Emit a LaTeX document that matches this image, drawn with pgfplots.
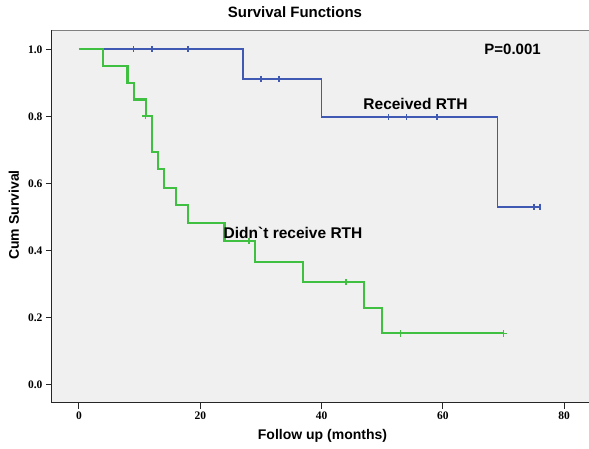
\documentclass[border=0pt]{standalone}
\usepackage{pgfplots}
\pgfplotsset{compat=1.18}
\usepackage{fontspec}
\setmainfont{Liberation Sans}
\newfontfamily\tickfont{Liberation Serif}
\definecolor{kmblue}{RGB}{64,90,180}
\definecolor{kmgreen}{RGB}{64,192,64}
\definecolor{plotbg}{RGB}{240,240,240}
\begin{document}
\begin{tikzpicture}[x=1pt,y=1pt]
\useasboundingbox (0,0) rectangle (589,448);
\begin{axis}[
  at={(52pt,45.3pt)}, anchor=south west,
  scale only axis, width=537pt, height=372.7pt,
  xmin=-4.45, xmax=84.1, ymin=-0.055, ymax=1.0576,
  axis x line*=bottom, axis y line*=left,
  axis line style={black!85, line width=1pt},
  axis background/.style={fill=plotbg},
  xtick={0,20,40,60,80}, ytick={0,0.2,0.4,0.6,0.8,1.0},
  tick align=outside, major tick length=6pt,
  tick style={black!85, line width=1pt},
  /pgf/number format/assume math mode=true,
  yticklabel style={/pgf/number format/fixed, /pgf/number format/precision=1, /pgf/number format/fixed zerofill},
  ticklabel style={font=\tickfont\bfseries\fontsize{11.5}{13}\selectfont},
  title={Survival Functions},
  title style={at={(axis description cs:0.4525,1.032)}, anchor=center, font=\bfseries\fontsize{15}{18}\selectfont},
  xlabel={Follow up (months)},
  xlabel style={at={(axis description cs:0.5037,-0.0893)}, anchor=center, font=\bfseries\fontsize{14}{17}\selectfont},
  ylabel={Cum Survival},
  ylabel style={at={(axis description cs:-0.0708,0.5036)}, anchor=center, font=\bfseries\fontsize{14}{17}\selectfont},
  clip=false,
]
% Received RTH
\addplot[const plot, color=kmblue, line width=1.7pt] coordinates {
 (0,1.0) (27,0.911) (40,0.797) (69,0.530) (76,0.530)};
\addplot[only marks, mark=|, mark size=3.2pt, color=kmblue, mark options={line width=1.5pt}] coordinates {
 (9,1.0) (12,1.0) (18,1.0) (30,0.911) (33,0.911) (51,0.797) (54,0.797) (59,0.797) (75,0.530) (76,0.530)};
% Didn't receive RTH
\addplot[const plot, color=kmgreen, line width=2.1pt] coordinates {
 (0,1.0) (4,0.95) (8,0.90) (9,0.85) (11,0.80) (12,0.694) (13,0.642) (14,0.587) (16,0.534) (18,0.481) (24,0.428) (29,0.366) (37,0.305) (47,0.229) (50,0.152) (70,0.152)};
\addplot[only marks, mark=+, mark size=3.2pt, color=kmgreen, mark options={line width=1.6pt}] coordinates {
 (11,0.80) (28,0.428) (44,0.305) (53,0.152) (70,0.152)};
\draw[black!50, line width=1pt] (rel axis cs:0,1) -- (rel axis cs:1,1);
\node[font=\bfseries\fontsize{15}{18}\selectfont, anchor=center] at (axis cs:71.5,1.0) {P=0.001};
\node[font=\bfseries\fontsize{15.5}{18}\selectfont, anchor=center] at (axis cs:55.5,0.837) {Received RTH};
\node[font=\bfseries\fontsize{15.5}{18}\selectfont, anchor=center] at (axis cs:35.3,0.452) {Didn\textasciigrave t receive RTH};
\end{axis}
\end{tikzpicture}
\end{document}
